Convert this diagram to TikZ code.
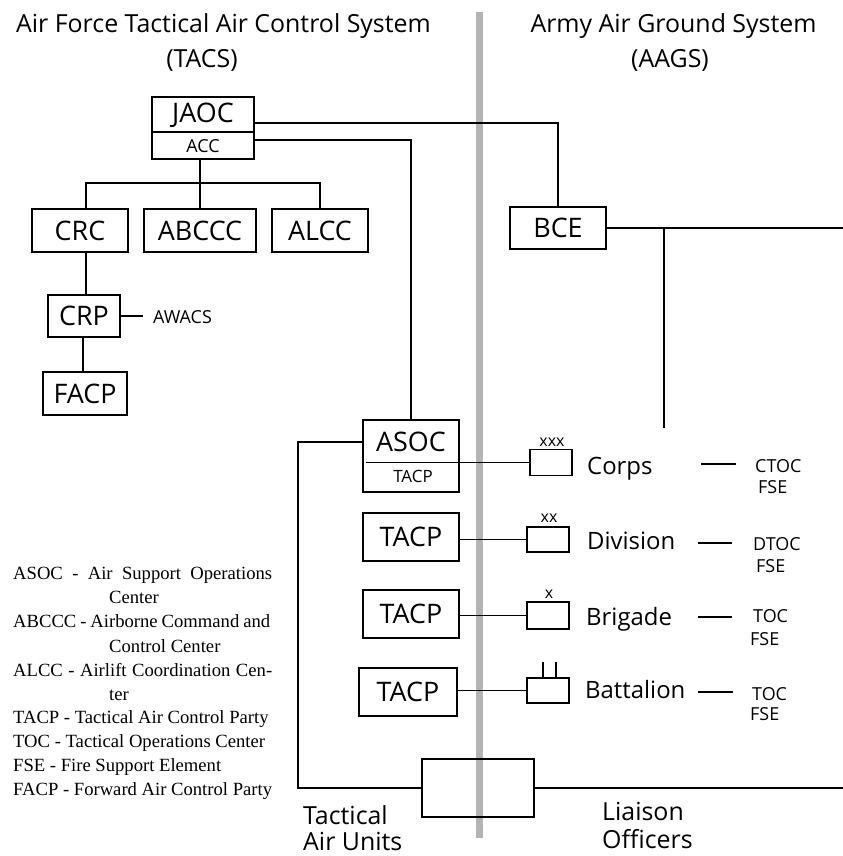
\documentclass[tikz,border=0pt]{standalone}
\usepackage{fontspec}
\setmainfont{Open Sans}
\newfontfamily\legendfont{Liberation Serif}
\definecolor{divgray}{RGB}{180,180,180}
\begin{document}
\begin{tikzpicture}[x=1bp,y=-1bp,
  conn/.style={line width=1.8bp},
  box/.style={draw, line width=1.8bp, inner sep=0pt, font=\fontsize{27}{30}\selectfont},
  ttl/.style={font=\fontsize{25}{30}\selectfont, inner sep=0pt, anchor=base},
  big/.style={font=\fontsize{25}{30}\selectfont, inner sep=0pt, anchor=base west},
  small/.style={font=\fontsize{18}{20}\selectfont, inner sep=0pt, anchor=base west},
  unitlbl/.style={font=\fontsize{24}{28}\selectfont, inner sep=0pt, anchor=base west},
  echelon/.style={font=\fontsize{16}{18}\selectfont, inner sep=0pt, anchor=base},
  unitbox/.style={draw, line width=1.8bp, minimum width=42bp, inner sep=0pt},
  lgd/.style={font=\legendfont\fontsize{18.7}{22}\selectfont, inner sep=0pt, anchor=base west}]
\useasboundingbox (0,0) rectangle (843,856);

% dividing gray bar
\draw[draw=divgray, line width=6.5bp] (479.7,12) -- (479.7,838);

% titles
\node[ttl] (t1) at (223.5,32) {Air Force Tactical Air Control System};
\node[ttl] (t1b) at (202,67) {(TACS)};
\node[ttl] (t2) at (673.5,32) {Army Air Ground System};
\node[ttl] (t2b) at (670,67) {(AAGS)};

% JAOC / ACC
\node[box, minimum width=102bp, minimum height=62bp] (jaoc) at (203,128) {};
\draw[conn] (jaoc.west |- 0,132) -- (jaoc.east |- 0,132);
\node[anchor=base, inner sep=0pt, font=\fontsize{27}{30}\selectfont] (jaoct) at (203,122) {JAOC};
\node[anchor=base, inner sep=0pt, font=\fontsize{18}{20}\selectfont] (acct) at (203,152) {ACC};

% second row
\node[box, minimum width=96bp, minimum height=43bp] (crc) at (80,230.5) {CRC};
\node[box, minimum width=112bp, minimum height=43bp] (abccc) at (200,230.5) {ABCCC};
\node[box, minimum width=96bp, minimum height=43bp] (alcc) at (320,230.5) {ALCC};
\node[box, minimum width=72bp, minimum height=42bp] (crp) at (84,316) {CRP};
\node[box, minimum width=84bp, minimum height=43bp] (facp) at (85,393.5) {FACP};
\node[small] (awacs) at (153,323) {AWACS};

% Army side
\node[box, minimum width=96bp, minimum height=42bp] (bce) at (558,228) {BCE};
\coordinate (bceend) at (843,228);
\coordinate (bcedrop) at (664,428);

% ASOC
\node[box, minimum width=96bp, minimum height=72bp] (asoc) at (411,456) {};
\node[anchor=base, inner sep=0pt, font=\fontsize{27}{30}\selectfont] (asoct) at (411,451) {ASOC};
\node[anchor=base, inner sep=0pt, font=\fontsize{17}{20}\selectfont] (asoctacp) at (413,482) {TACP};

% TACP boxes
\node[box, minimum width=96bp, minimum height=48bp] (tacpdiv) at (411,537) {TACP};
\node[box, minimum width=96bp, minimum height=48bp] (tacpbde) at (411,614) {TACP};
\node[box, minimum width=98bp, minimum height=48bp] (tacpbn) at (408,692) {TACP};

% unit symbols
\node[unitbox, minimum height=26bp] (corps) at (551,462.5) {};
\node[unitbox, minimum height=25bp] (div) at (548,539.5) {};
\node[unitbox, minimum height=27bp] (bde) at (548,615.5) {};
\node[unitbox, minimum height=25bp] (bn) at (548,690.5) {};
\node[echelon] (ex3) at (552,446) {xxx};
\node[echelon] (ex2) at (549,522) {xx};
\node[echelon] (ex1) at (549,598) {x};
\draw[conn] (543,662) -- (bn.north -| 543,0);
\draw[conn] (556,662) -- (bn.north -| 556,0);

\node[unitlbl] (corpst) at (587,474) {Corps};
\node[unitlbl] (divt) at (587,549) {Division};
\node[unitlbl] (bdet) at (586,625) {Brigade};
\node[unitlbl] (bnt) at (585,698) {Battalion};

% TOC / FSE
\node[small] (ctoc) at (755,472) {CTOC};
\node[small] (fse1) at (758,493) {FSE};
\node[small] (dtoc) at (753,550) {DTOC};
\node[small] (fse2) at (756,572) {FSE};
\node[small] (toc3) at (753,622) {TOC};
\node[small] (fse3) at (750,645) {FSE};
\node[small] (toc4) at (752,700) {TOC};
\node[small] (fse4) at (750,720) {FSE};
\draw[conn] (701,464) -- (736,464);
\draw[conn] (698,543) -- (732,543);
\draw[conn] (698,617) -- (732,617);
\draw[conn] (698,692) -- (733,692);

% liaison box
\node[box, minimum width=112bp, minimum height=58bp] (lbox) at (478,788) {};
\coordinate (lend) at (843,788);
\node[big] (tau1) at (303,824) {Tactical};
\node[big] (tau2) at (303,850) {Air Units};
\node[big] (lo1) at (602,820) {Liaison};
\node[big] (lo2) at (602,848) {Officers};

% connectors
\draw[conn] (jaoc.east |- 0,123) -| (bce.north);
\draw[conn] (jaoc.east |- 0,140) -| (asoc.north);
\draw[conn] (jaoc.south -| abccc.north) -- (abccc.north);
\draw[conn] (crc.north -| 86,0) |- (alcc.north |- 0,183) -- (alcc.north);
\draw[conn] (crc.south -| 86,0) -- (crp.north -| 86,0);
\draw[conn] (crp.east) -- (crp.east -| 143,0);
\draw[conn] (crp.south -| 83,0) -- (facp.north -| 83,0);
\draw[conn] (bce.east) -- (bceend);
\draw[conn] (bcedrop |- bce.east) -- (bcedrop);
\draw[conn] ([xshift=4bp]asoc.west |- corps.west) -- (corps.west);
\draw[conn] (asoc.west |- 0,442) -- (298,442) |- (lbox.west);
\draw[conn] (lbox.east) -- (lend);
\draw[conn] (tacpdiv.east |- div.west) -- (div.west);
\draw[conn] (tacpbde.east |- bde.west) -- (bde.west);
\draw[conn] (tacpbn.east |- bn.west) -- (bn.west);

% legend
\node[lgd] (l1) at (13,579) {\makebox[259bp][s]{ASOC - Air Support Operations}};
\node[lgd] (l2) at (109,603) {Center};
\node[lgd] (l3) at (13,627) {\makebox[257bp][s]{ABCCC - Airborne Command and}};
\node[lgd] (l4) at (109,652) {Control Center};
\node[lgd] (l5) at (13,676) {\makebox[259bp][s]{ALCC - Airlift Coordination Cen-}};
\node[lgd] (l6) at (109,700) {ter};
\node[lgd] (l7) at (13,723) {TACP - Tactical Air Control Party};
\node[lgd] (l8) at (13,747) {TOC - Tactical Operations Center};
\node[lgd] (l9) at (13,771) {FSE - Fire Support Element};
\node[lgd] (l10) at (13,795) {FACP - Forward Air Control Party};
\end{tikzpicture}
\end{document}
